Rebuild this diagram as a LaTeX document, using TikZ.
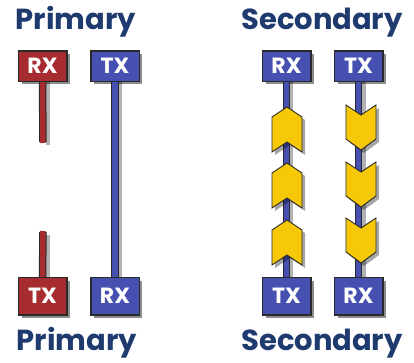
\documentclass[tikz,border=0pt]{standalone}
\usepackage{fontspec}
\setmainfont{Poppins}
\usetikzlibrary{shadows}
\definecolor{navy}{HTML}{1E3A6E}
\definecolor{rred}{HTML}{A62C30}
\definecolor{bblue}{HTML}{4650B0}
\definecolor{ylw}{HTML}{F7C808}
\definecolor{edge}{HTML}{2A2A2A}
\tikzset{
  title/.style={text=navy, font=\fontsize{29}{29}\selectfont\bfseries, inner sep=0pt, anchor=base},
  box/.style={draw=edge, line width=0.9pt, text=white, font=\fontsize{22}{22}\selectfont\bfseries,
    minimum width=48pt, inner sep=0pt,
    drop shadow={shadow xshift=3pt, shadow yshift=-3pt, opacity=0.45, fill=black}},
  topbox/.style={box, minimum height=30pt},
  botbox/.style={box, minimum height=37pt},
  redbox/.style={fill=rred},
  bluebox/.style={fill=bblue},
  stemout/.style={draw=edge, line width=7.5pt},
  redstem/.style={draw=rred, line width=5.5pt},
  bluestem/.style={draw=bblue, line width=5.5pt},
  chev/.style={fill=ylw, draw=edge, line width=0.9pt, line join=miter},
  chevshadow/.style={fill=black, opacity=0.35}
}
\begin{document}
\begin{tikzpicture}[x=1pt,y=-1pt]
\useasboundingbox[fill=white] (0,0) rectangle (414,363);
% titles
\node[title] (pt) at (76,30) {Primary};
\node[title] (st) at (322,30) {Secondary};
\node[title] (pb) at (77,350) {Primary};
\node[title] (sb) at (322,350) {Secondary};
% stem coordinates
\coordinate (r1end) at (43,142);
\coordinate (r2end) at (43,232);
% stem shadows
\fill[black,opacity=0.3] (46,81) rectangle (50,145);
\fill[black,opacity=0.3] (46,235) rectangle (50,278);
\fill[black,opacity=0.3] (118,81) rectangle (122,278);
\fill[black,opacity=0.3] (289,81) rectangle (293,278);
\fill[black,opacity=0.3] (362,81) rectangle (366,278);
% boxes
\node[topbox,redbox] (rx1) at (42.5,66) {RX};
\node[topbox,bluebox] (tx1) at (115,66) {TX};
\node[botbox,redbox] (tx2) at (42.5,296) {TX};
\node[botbox,bluebox] (rx2) at (115,296) {RX};
\node[topbox,bluebox] (rx3) at (286.5,66) {RX};
\node[topbox,bluebox] (tx3) at (358.5,66) {TX};
\node[botbox,bluebox] (tx4) at (286.5,296) {TX};
\node[botbox,bluebox] (rx4) at (358.5,296) {RX};
% stems
\draw[stemout] (rx1.south) -- (r1end);
\draw[redstem] ([yshift=1pt]rx1.south) -- ([yshift=-1pt]r1end);
\draw[stemout] (tx2.north) -- (r2end);
\draw[redstem] ([yshift=-1pt]tx2.north) -- ([yshift=1pt]r2end);
\draw[stemout] (tx1.south) -- (rx2.north);
\draw[bluestem] ([yshift=1pt]tx1.south) -- ([yshift=-1pt]rx2.north);
\draw[stemout] (rx3.south) -- (tx4.north);
\draw[bluestem] ([yshift=1pt]rx3.south) -- ([yshift=-1pt]tx4.north);
\draw[stemout] (tx3.south) -- (rx4.north);
\draw[bluestem] ([yshift=1pt]tx3.south) -- ([yshift=-1pt]rx4.north);
% box borders over stem ends
\foreach \n in {rx1,tx1,tx2,rx2,rx3,tx3,tx4,rx4}{\draw[edge,line width=0.9pt] (\n.south west) rectangle (\n.north east);}
% up chevrons (left secondary)
\foreach \t in {107,163,220}{
  \fill[chevshadow] (290,\t+3) -- (305,\t+13) -- (305,\t+48) -- (290,\t+38) -- (275,\t+48) -- (275,\t+13) -- cycle;
  \draw[chev] (287,\t) -- (302,\t+10) -- (302,\t+45) -- (287,\t+35) -- (272,\t+45) -- (272,\t+10) -- cycle;
}
% down chevrons (right secondary)
\foreach \t in {105,162,218}{
  \fill[chevshadow] (349,\t+3) -- (364,\t+13) -- (379,\t+3) -- (379,\t+37) -- (364,\t+48) -- (349,\t+37) -- cycle;
  \draw[chev] (346,\t) -- (361,\t+10) -- (376,\t) -- (376,\t+34) -- (361,\t+45) -- (346,\t+34) -- cycle;
}
\end{tikzpicture}
\end{document}
